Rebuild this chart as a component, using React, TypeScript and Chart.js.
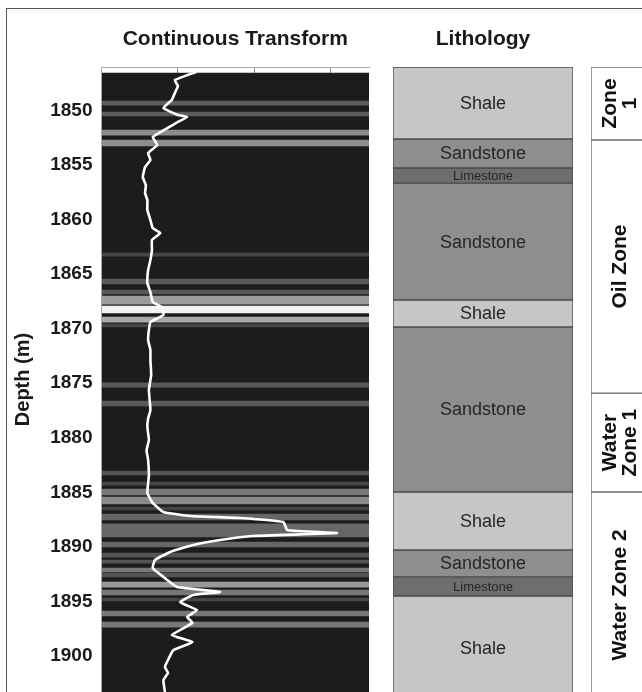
import React, { useEffect, useRef } from 'react';
import { Chart, registerables } from 'chart.js';

Chart.register(...registerables);

const FONT = 'Arial, "Liberation Sans", Helvetica, sans-serif';

// ---------- data ----------
const DEPTH_MIN = 1846.01;
const DEPTH_MAX = 1903.3;
const depthTicks = [1850, 1855, 1860, 1865, 1870, 1875, 1880, 1885, 1890, 1895, 1900];
const transformTicks = [1, 2, 3];
const TRANSFORM_MIN = 0;
const TRANSFORM_MAX = 3.5;
const LOG_TOP = 1846.56;
const LOG_BOTTOM = 1904.03;

const curveDepth = [
  1846.47, 1847.21, 1847.76, 1848.39, 1849.03, 1849.77, 1850.41, 1850.59, 1851.05, 1851.61,
  1852.43, 1853.16, 1853.9, 1854.54, 1855.18, 1856.1, 1856.83, 1857.56, 1858.21, 1859.12,
  1860.04, 1860.77, 1861.23, 1861.87, 1862.79, 1863.7, 1864.62, 1865.81, 1866.64, 1867.55,
  1868.01, 1868.75, 1869.39, 1870.12, 1871.04, 1871.95, 1872.87, 1874.24, 1875.62, 1877.46,
  1878.22, 1879.01, 1880.2, 1881.13, 1882.04, 1883.41, 1884.15, 1885.06, 1885.97, 1886.8,
  1887.17, 1887.35, 1887.72, 1888.45, 1888.73, 1889.0, 1889.37, 1889.82, 1890.46, 1891.2,
  1891.93, 1892.75, 1893.68, 1894.13, 1894.41, 1895.06, 1895.79, 1896.42, 1896.97, 1898.08,
  1898.72, 1899.46, 1900.37, 1901.01, 1901.55, 1902.2, 1903.3,
];
const curveValue = [
  1.24, 0.96, 1.0, 0.96, 0.92, 0.81, 1.0, 1.12, 1.0, 0.86,
  0.67, 0.73, 0.61, 0.64, 0.57, 0.54, 0.58, 0.57, 0.6, 0.6,
  0.64, 0.67, 0.77, 0.66, 0.66, 0.64, 0.61, 0.6, 0.64, 0.67,
  0.79, 0.81, 0.64, 0.62, 0.61, 0.64, 0.64, 0.65, 0.62, 0.64,
  0.61, 0.6, 0.62, 0.59, 0.61, 0.62, 0.61, 0.6, 0.67, 0.81,
  1.16, 1.81, 2.38, 2.43, 3.08, 1.98, 1.55, 1.2, 0.9, 0.7,
  0.67, 0.81, 0.99, 1.55, 1.2, 1.03, 1.25, 1.12, 1.19, 0.92,
  1.19, 0.94, 0.87, 0.83, 0.87, 0.81, 0.83,
];

const stripeTop = [
  1849.13, 1850.14, 1851.79, 1852.7, 1863.06, 1865.44, 1866.45, 1867.01, 1867.92, 1868.93,
  1869.57, 1874.97, 1876.63, 1883.04, 1884.06, 1884.7, 1885.43, 1886.35, 1886.99, 1887.89,
  1889.55, 1890.56, 1891.2, 1891.93, 1892.39, 1893.22, 1893.95, 1894.68, 1895.88, 1896.88,
];
const stripeBottom = [
  1849.5, 1850.5, 1852.25, 1853.25, 1863.34, 1865.9, 1866.82, 1867.74, 1868.56, 1869.39,
  1869.84, 1875.35, 1877.08, 1883.41, 1884.33, 1885.24, 1886.06, 1886.62, 1887.53, 1889.09,
  1890.01, 1890.93, 1891.48, 1892.3, 1892.75, 1893.68, 1894.41, 1894.96, 1896.33, 1897.35,
];
const stripeLevel = [
  0.36, 0.36, 0.55, 0.55, 0.27, 0.35, 0.35, 0.61, 0.95, 0.66,
  0.27, 0.35, 0.35, 0.33, 0.27, 0.47, 0.54, 0.27, 0.4, 0.4,
  0.4, 0.33, 0.33, 0.47, 0.33, 0.6, 0.47, 0.27, 0.47, 0.47,
];

const lithNames = ['Shale', 'Sandstone', 'Limestone', 'Sandstone', 'Shale', 'Sandstone', 'Shale', 'Sandstone', 'Limestone', 'Shale'];
const lithTop = [1846.01, 1852.61, 1855.27, 1856.65, 1867.37, 1869.84, 1884.97, 1890.28, 1892.75, 1894.5];
const lithBottom = [1852.61, 1855.27, 1856.65, 1867.37, 1869.84, 1884.97, 1890.28, 1892.75, 1894.5, 1904.03];

const zoneLines = [['Zone', '1'], ['Oil Zone'], ['Water', 'Zone 1'], ['Water Zone 2']];
const zoneTop = [1846.01, 1852.7, 1875.9, 1884.97];
const zoneBottom = [1852.7, 1875.9, 1884.97, 1903.83];

// ---------- styles ----------
const lithColor: Record<string, string> = {
  Shale: '#c6c6c6',
  Sandstone: '#8e8e8e',
  Limestone: '#6e6e6e',
};
const grayOf = (v: number) => {
  const g = Math.round(v * 255);
  return `rgb(${g},${g},${g})`;
};
const titleOpts = (text: string) => ({
  display: true,
  text,
  fullSize: false,
  color: '#1a1a1a',
  font: { family: FONT, size: 21, weight: 'bold' as const },
  padding: { top: 14, bottom: 14.8 },
});
const hiddenDepthAxis = {
  type: 'linear' as const,
  reverse: true,
  min: DEPTH_MIN,
  max: DEPTH_MAX,
  display: false,
};
const fullBar = {
  type: 'bar' as const,
  grouped: false,
  barPercentage: 1,
  categoryPercentage: 1,
  xAxisID: 'x',
  yAxisID: 'y',
};

function logConfig(): any {
  const bg = { ...fullBar, label: 'log', data: [[LOG_TOP, LOG_BOTTOM]], backgroundColor: '#1c1c1c', borderWidth: 0, order: 3 };
  const stripes = stripeTop.map((t, i) => ({
    ...fullBar,
    label: 'band ' + (i + 1),
    data: [[t, stripeBottom[i]]],
    backgroundColor: grayOf(stripeLevel[i]),
    borderWidth: 0,
    order: 2,
  }));
  const line = {
    type: 'line' as const,
    label: 'Continuous Transform',
    data: curveDepth.map((d, i) => ({ x: curveValue[i], y: d })),
    xAxisID: 'x2',
    yAxisID: 'y',
    borderColor: '#ffffff',
    borderWidth: 2.6,
    pointRadius: 0,
    tension: 0.12,
    fill: false,
    order: 0,
  };
  return {
    type: 'bar',
    data: { labels: ['log'], datasets: [bg, ...stripes, line] },
    options: {
      animation: false,
      responsive: false,
      devicePixelRatio: 1,
      layout: { padding: { top: 13, left: 0, right: 11, bottom: 0 } },
      plugins: {
        legend: { display: false },
        tooltip: { enabled: false },
        title: titleOpts('Continuous Transform'),
      },
      scales: {
        x: { type: 'category', display: false, offset: true },
        x2: {
          type: 'linear',
          position: 'top',
          offset: false,
          min: TRANSFORM_MIN,
          max: TRANSFORM_MAX,
          afterBuildTicks: (s: any) => {
            s.ticks = transformTicks.map((v) => ({ value: v }));
          },
          ticks: { display: false },
          grid: { color: '#8a8a8a', drawTicks: false, lineWidth: 1, offset: false },
          border: { color: '#a8a8a8', z: 1 },
          afterFit: (s: any) => {
            s.height = 0;
          },
        },
        y: {
          type: 'linear',
          position: 'left',
          reverse: true,
          min: DEPTH_MIN,
          max: DEPTH_MAX,
          afterBuildTicks: (s: any) => {
            s.ticks = depthTicks.map((v) => ({ value: v }));
          },
          ticks: {
            color: '#1a1a1a',
            padding: 9,
            font: { family: FONT, size: 19, weight: 'bold' },
            callback: (v: any) => String(v),
          },
          grid: { display: false, drawTicks: false },
          border: { color: '#a8a8a8', z: 1 },
          title: {
            display: true,
            text: 'Depth (m)',
            color: '#1a1a1a',
            font: { family: FONT, size: 20, weight: 'bold' },
            padding: { top: 11, bottom: 0 },
          },
          afterFit: (s: any) => {
            s.width = 101.5;
            s.paddingTop = 0;
            s.paddingBottom = 0;
          },
        },
      },
    },
  };
}

const lithLabelPlugin = {
  id: 'lithLabels',
  afterDatasetsDraw(chart: any) {
    const ctx = chart.ctx;
    ctx.save();
    ctx.fillStyle = '#262626';
    ctx.textAlign = 'center';
    ctx.textBaseline = 'middle';
    chart.data.datasets.forEach((ds: any, i: number) => {
      const el = chart.getDatasetMeta(i).data[0];
      if (!el) return;
      const p = el.getProps(['x', 'y', 'base'], true);
      const cy = (p.y + p.base) / 2;
      const small = ds.label === 'Limestone';
      ctx.font = `${small ? 13 : 18}px ${FONT}`;
      ctx.fillText(ds.label, p.x, cy + 1);
    });
    ctx.restore();
  },
};

function lithConfig(): any {
  return {
    type: 'bar',
    data: {
      labels: ['Lithology'],
      datasets: lithNames.map((name, i) => ({
        ...fullBar,
        label: name,
        data: [[lithTop[i], lithBottom[i]]],
        backgroundColor: lithColor[name],
        borderColor: '#4a4a4a',
        borderWidth: 1,
        borderSkipped: false,
      })),
    },
    options: {
      animation: false,
      responsive: false,
      devicePixelRatio: 1,
      layout: { padding: { top: 13, left: 13, right: 7, bottom: 0 } },
      plugins: {
        legend: { display: false },
        tooltip: { enabled: false },
        title: titleOpts('Lithology'),
      },
      scales: {
        x: { type: 'category', display: false, offset: true },
        y: hiddenDepthAxis,
      },
    },
    plugins: [lithLabelPlugin],
  };
}

const zoneLabelPlugin = {
  id: 'zoneLabels',
  afterDatasetsDraw(chart: any) {
    const ctx = chart.ctx;
    ctx.save();
    ctx.fillStyle = '#111111';
    ctx.textAlign = 'center';
    ctx.textBaseline = 'middle';
    ctx.font = `bold 21px ${FONT}`;
    chart.data.datasets.forEach((_ds: any, i: number) => {
      const el = chart.getDatasetMeta(i).data[0];
      if (!el) return;
      const p = el.getProps(['x', 'y', 'base'], true);
      const cy = (p.y + p.base) / 2;
      const lines = zoneLines[i];
      const lh = 20;
      ctx.save();
      ctx.translate(p.x, cy);
      ctx.rotate(-Math.PI / 2);
      lines.forEach((t, k) => {
        ctx.fillText(t, 0, (k - (lines.length - 1) / 2) * lh + 1);
      });
      ctx.restore();
    });
    ctx.restore();
  },
};

function zoneConfig(): any {
  return {
    type: 'bar',
    data: {
      labels: ['Zone'],
      datasets: zoneLines.map((lines, i) => ({
        ...fullBar,
        label: lines.join(' '),
        data: [[zoneTop[i], zoneBottom[i]]],
        backgroundColor: '#ffffff',
        borderColor: '#6e6e6e',
        borderWidth: 1,
        borderSkipped: false,
      })),
    },
    options: {
      animation: false,
      responsive: false,
      devicePixelRatio: 1,
      layout: { padding: { top: 67, left: 9, right: 15, bottom: 0 } },
      plugins: { legend: { display: false }, tooltip: { enabled: false } },
      scales: {
        x: { type: 'category', display: false, offset: true },
        y: hiddenDepthAxis,
      },
    },
    plugins: [zoneLabelPlugin],
  };
}

function ChartCanvas({ make, left, width }: { make: () => any; left: number; width: number }) {
  const ref = useRef<HTMLCanvasElement | null>(null);
  useEffect(() => {
    if (!ref.current) return;
    const chart = new Chart(ref.current, make());
    return () => chart.destroy();
  }, [make]);
  return (
    <canvas
      ref={ref}
      width={width}
      height={692}
      style={{ position: 'absolute', left, top: 0, width, height: 692 }}
    />
  );
}

export default function App() {
  return (
    <div
      style={{
        position: 'fixed',
        left: 0,
        top: 0,
        width: 642,
        height: 692,
        overflow: 'hidden',
        background: '#ffffff',
      }}
    >
      <div
        style={{
          position: 'absolute',
          left: 6,
          top: 8,
          width: 720,
          height: 720,
          border: '1px solid #555',
          boxSizing: 'border-box',
        }}
      />
      <ChartCanvas make={logConfig} left={0} width={380} />
      <ChartCanvas make={lithConfig} left={380} width={200} />
      <ChartCanvas make={zoneConfig} left={582} width={80} />
    </div>
  );
}
